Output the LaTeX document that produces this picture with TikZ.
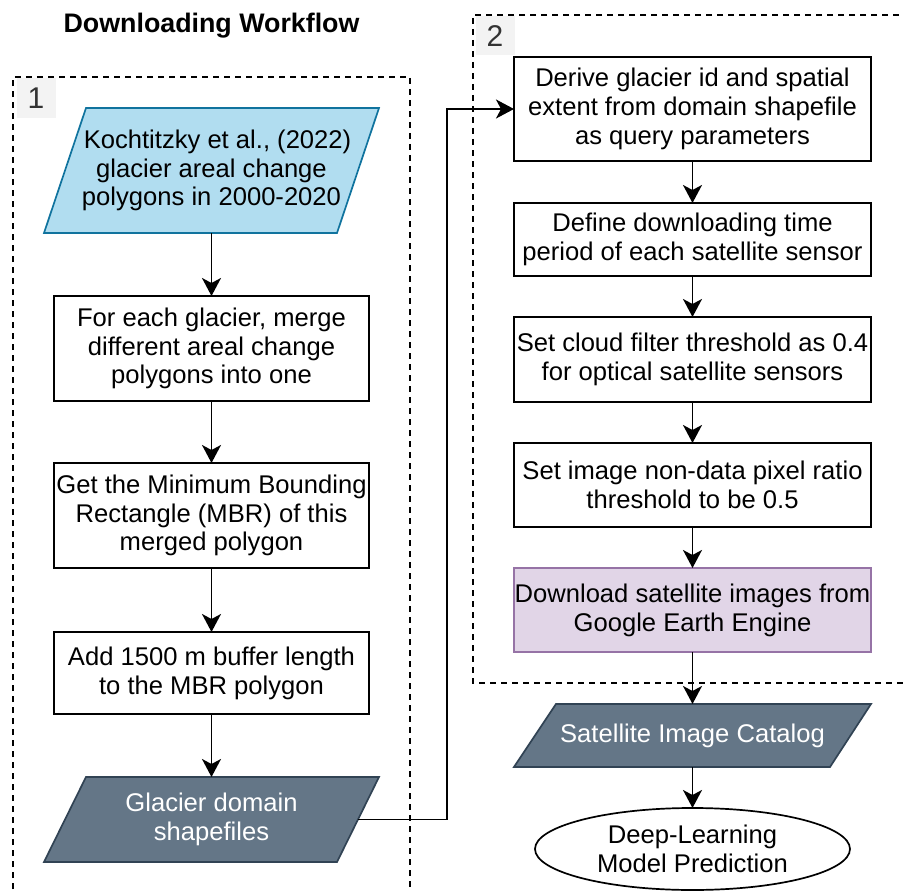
\documentclass[tikz,border=0pt]{standalone}
\usepackage{fontspec}
\setmainfont{Liberation Sans}
\usetikzlibrary{arrows.meta,shapes.geometric}
\definecolor{blueFill}{HTML}{B1DDF0}
\definecolor{blueDraw}{HTML}{10739E}
\definecolor{slateFill}{HTML}{647687}
\definecolor{slateDraw}{HTML}{314354}
\definecolor{purpFill}{HTML}{E1D5E7}
\definecolor{purpDraw}{HTML}{9673A6}
\definecolor{lblFill}{HTML}{F3F3F3}
\definecolor{lblText}{HTML}{333333}
\begin{document}
\begin{tikzpicture}[x=1pt,y=-1pt,
  every node/.style={font=\fontsize{25.6}{28.8}\selectfont, align=center, inner sep=0pt, outer sep=0pt},
  stepbox/.style={draw=black, line width=1.7pt, fill=white, minimum width=#1},
  stepbox/.default=315pt,
  purpbox/.style={draw=purpDraw, line width=1.7pt, fill=purpFill, minimum width=357pt},
  paratext/.style={draw=none, minimum width=#1},
  grp/.style={draw=black, line width=1.6pt, dash pattern=on 6pt off 5pt},
  lbl/.style={fill=lblFill, text=lblText, font=\fontsize{30}{30}\selectfont, minimum width=39pt, minimum height=39pt},
  arr/.style={line width=1.8pt, -{Stealth[length=18pt, width=19pt, inset=5pt]}},
  ellbox/.style={ellipse, draw=black, line width=1.7pt, fill=white, minimum width=315pt, minimum height=82pt}
]
\useasboundingbox (0,0) rectangle (903,891);

% group frames
\draw[grp] (13,900) -- (13,77) -- (410,77) -- (410,900);
\draw[grp] (910,15) -- (473,15) -- (473,683) -- (910,683);
\node[lbl] (l1) at (36,98) {1};
\node[lbl] (l2) at (495,36) {2};

% title
\node[anchor=base, font=\fontsize{26.8}{30}\selectfont\bfseries] (title) at (211.5,33) {Downloading Workflow};

% parallelogram shapes
\filldraw[fill=blueFill, draw=blueDraw, line width=1.7pt] (86,108) -- (379,108) -- (337,233) -- (44,233) -- cycle;
\filldraw[fill=slateFill, draw=slateDraw, line width=1.7pt] (86,777) -- (379,777) -- (337,862) -- (44,862) -- cycle;
\filldraw[fill=slateFill, draw=slateDraw, line width=1.7pt] (556,704) -- (871,704) -- (830,767) -- (514,767) -- cycle;

% left column
\node[paratext=293pt, minimum height=125pt] (p1) at (211.5,170.5)
  {\hspace*{12pt}Kochtitzky et al., (2022)\\glacier areal change\\polygons in 2000-2020};
\node[stepbox, minimum height=105pt] (a) at (211.5,348.5)
  {For each glacier, merge\\different areal change\\polygons into one};
\node[stepbox, minimum height=105pt] (b) at (211.5,515.5)
  {Get the Minimum Bounding\\Rectangle (MBR) of this\\merged polygon};
\node[stepbox, minimum height=82pt] (c) at (211.5,673)
  {Add 1500 m buffer length\\to the MBR polygon};
\node[paratext=293pt, minimum height=85pt, text=white] (p2) at (211.5,819.5)
  {Glacier domain\\shapefiles};

% right column
\node[stepbox=357pt, minimum height=104pt] (d) at (692.5,109)
  {Derive glacier id and spatial\\extent from domain shapefile\\as query parameters};
\node[stepbox=357pt, minimum height=73pt] (e) at (692.5,239.5)
  {Define downloading time\\period of each satellite sensor};
\node[stepbox=357pt, minimum height=85pt] (f) at (692.5,359.5)
  {Set cloud filter threshold as 0.4\\for optical satellite sensors};
\node[stepbox=357pt, minimum height=84pt] (g) at (692.5,485)
  {Set image non-data pixel ratio\\threshold to be 0.5};
\node[purpbox, minimum height=84pt] (h) at (692.5,610)
  {Download satellite images from\\Google Earth Engine};
\node[paratext=315pt, minimum height=63pt, text=white] (p3) at (692.5,735.5)
  {Satellite Image Catalog};
\node[ellbox] (dl) at (692.5,849)
  {Deep-Learning\\Model Prediction};

% connectors
\draw[arr] (p1.south) -- (a.north);
\draw[arr] (a.south) -- (b.north);
\draw[arr] (b.south) -- (c.north);
\draw[arr] (c.south) -- (p2.north);
\coordinate (bend) at (447,819.5);
\draw[arr] (p2.east) -- (bend) |- (d.west);
\draw[arr] (d.south) -- (e.north);
\draw[arr] (e.south) -- (f.north);
\draw[arr] (f.south) -- (g.north);
\draw[arr] (g.south) -- (h.north);
\draw[arr] (h.south) -- (p3.north);
\draw[arr] (p3.south) -- (dl.north);
\end{tikzpicture}
\end{document}
